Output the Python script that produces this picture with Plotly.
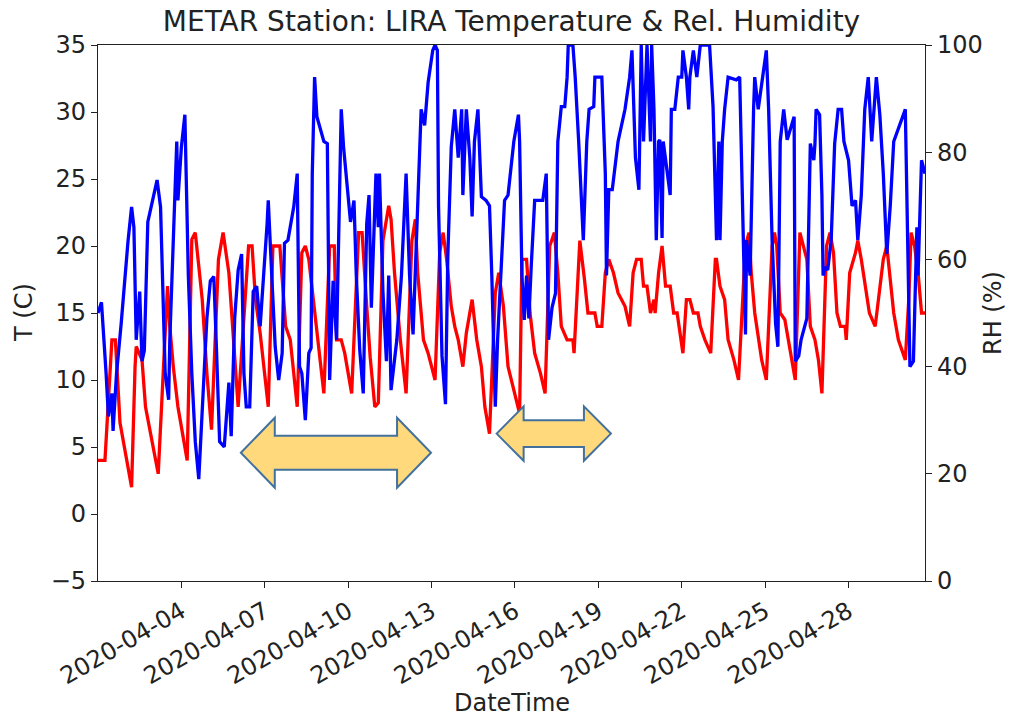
import pandas as pd
import plotly.graph_objects as go

# ---------------- data ----------------
title_text = "METAR Station: LIRA Temperature & Rel. Humidity"

t_temp = [
    "2020-04-01 00:00", "2020-04-01 06:00", "2020-04-01 12:00", "2020-04-01 15:00", "2020-04-01 19:00",
    "2020-04-02 05:00", "2020-04-02 08:00", "2020-04-02 09:00", "2020-04-02 14:00", "2020-04-02 17:00",
    "2020-04-03 04:00", "2020-04-03 08:00", "2020-04-03 12:00", "2020-04-03 14:00", "2020-04-03 17:00",
    "2020-04-03 21:00", "2020-04-04 02:00", "2020-04-04 05:00", "2020-04-04 09:00", "2020-04-04 12:00",
    "2020-04-04 18:00", "2020-04-04 22:00", "2020-04-05 02:00", "2020-04-05 08:00", "2020-04-05 12:00",
    "2020-04-05 17:00", "2020-04-05 21:00", "2020-04-06 01:00", "2020-04-06 10:00", "2020-04-06 13:00",
    "2020-04-06 16:00", "2020-04-06 20:00", "2020-04-07 03:00", "2020-04-07 07:00", "2020-04-07 13:00",
    "2020-04-07 18:00", "2020-04-07 22:00", "2020-04-08 04:00", "2020-04-08 08:00", "2020-04-08 11:00",
    "2020-04-08 14:00", "2020-04-08 18:00", "2020-04-09 03:00", "2020-04-09 08:00", "2020-04-09 12:00",
    "2020-04-09 14:00", "2020-04-09 18:00", "2020-04-09 21:00", "2020-04-10 03:00", "2020-04-10 09:00",
    "2020-04-10 12:00", "2020-04-10 16:00", "2020-04-10 19:00", "2020-04-10 23:00", "2020-04-11 02:00",
    "2020-04-11 06:00", "2020-04-11 11:00", "2020-04-11 13:00", "2020-04-11 16:00", "2020-04-11 21:00",
    "2020-04-12 02:00", "2020-04-12 07:00", "2020-04-12 10:00", "2020-04-12 12:00", "2020-04-12 17:00",
    "2020-04-12 21:00", "2020-04-13 03:00", "2020-04-13 07:00", "2020-04-13 10:00", "2020-04-13 13:00",
    "2020-04-13 17:00", "2020-04-13 20:00", "2020-04-13 23:00", "2020-04-14 03:00", "2020-04-14 06:00",
    "2020-04-14 11:00", "2020-04-14 15:00", "2020-04-14 19:00", "2020-04-14 22:00", "2020-04-15 02:00",
    "2020-04-15 07:00", "2020-04-15 10:00", "2020-04-15 14:00", "2020-04-15 18:00", "2020-04-16 00:00",
    "2020-04-16 04:00", "2020-04-16 06:00", "2020-04-16 10:00", "2020-04-16 13:00", "2020-04-16 17:00",
    "2020-04-16 22:00", "2020-04-17 02:00", "2020-04-17 06:00", "2020-04-17 10:00", "2020-04-17 13:00",
    "2020-04-17 16:00", "2020-04-17 21:00", "2020-04-18 02:00", "2020-04-18 03:00", "2020-04-18 08:00",
    "2020-04-18 12:00", "2020-04-18 15:00", "2020-04-18 21:00", "2020-04-18 23:00", "2020-04-19 03:00",
    "2020-04-19 06:00", "2020-04-19 09:00", "2020-04-19 13:00", "2020-04-19 17:00", "2020-04-19 23:00",
    "2020-04-20 03:00", "2020-04-20 06:00", "2020-04-20 09:00", "2020-04-20 13:00", "2020-04-20 15:00",
    "2020-04-20 18:00", "2020-04-20 21:00", "2020-04-21 00:00", "2020-04-21 01:00", "2020-04-21 04:00",
    "2020-04-21 07:00", "2020-04-21 10:00", "2020-04-21 14:00", "2020-04-21 17:00", "2020-04-21 20:00",
    "2020-04-21 23:00", "2020-04-22 01:00", "2020-04-22 04:00", "2020-04-22 07:00", "2020-04-22 10:00",
    "2020-04-22 14:00", "2020-04-22 16:00", "2020-04-22 20:00", "2020-04-23 01:00", "2020-04-23 05:00",
    "2020-04-23 06:00", "2020-04-23 09:00", "2020-04-23 13:00", "2020-04-23 16:00", "2020-04-23 21:00",
    "2020-04-24 01:00", "2020-04-24 07:00", "2020-04-24 10:00", "2020-04-24 12:00", "2020-04-24 15:00",
    "2020-04-24 21:00", "2020-04-25 01:00", "2020-04-25 06:00", "2020-04-25 08:00", "2020-04-25 10:00",
    "2020-04-25 13:00", "2020-04-25 17:00", "2020-04-25 23:00", "2020-04-26 02:00", "2020-04-26 06:00",
    "2020-04-26 09:00", "2020-04-26 12:00", "2020-04-26 15:00", "2020-04-26 19:00", "2020-04-26 22:00",
    "2020-04-27 01:00", "2020-04-27 05:00", "2020-04-27 08:00", "2020-04-27 11:00", "2020-04-27 14:00",
    "2020-04-27 17:00", "2020-04-27 21:00", "2020-04-27 22:00", "2020-04-28 01:00", "2020-04-28 06:00",
    "2020-04-28 08:00", "2020-04-28 11:00", "2020-04-28 16:00", "2020-04-28 18:00", "2020-04-28 23:00",
    "2020-04-29 02:00", "2020-04-29 06:00", "2020-04-29 09:00", "2020-04-29 12:00", "2020-04-29 15:00",
    "2020-04-29 19:00", "2020-04-30 01:00", "2020-04-30 04:00", "2020-04-30 06:00", "2020-04-30 09:00",
    "2020-04-30 12:00", "2020-04-30 15:00", "2020-04-30 18:00",
]
temp_c = [
    4, 4, 13, 13, 6.8,
    2, 11, 12.5, 11.5, 8,
    3, 10.5, 17, 14, 11,
    8, 5.5, 4, 20.5, 21,
    16, 10.5, 6.3, 19, 21,
    18, 13, 8, 20, 20,
    16, 13.5, 8, 20, 20,
    14, 13, 8, 19.5, 20,
    19, 16, 9, 20, 20,
    13, 13, 12, 9, 21,
    21, 15.5, 11.7, 8, 8.3,
    20.4, 23, 22, 18, 13,
    9, 20.4, 22, 18, 13,
    12, 10, 19.5, 21, 19,
    15.5, 14, 13, 11, 13.5,
    16, 13, 11, 8, 6,
    16.5, 18, 15.5, 11, 9,
    7.5, 19, 19, 15, 12,
    10.5, 9, 20, 21, 18,
    14, 13, 13, 12, 20.4,
    17.5, 15, 15, 14, 14,
    18, 19, 18, 16.5, 15.5,
    14, 18, 19, 19, 17,
    17, 15, 16, 15, 18,
    20, 17, 17, 15, 15,
    13, 12, 16, 16, 15,
    15, 14, 13, 12, 19,
    19, 17, 16, 13, 11.5,
    10, 20, 21, 18, 15,
    11.5, 10, 20, 21, 20,
    15, 14.5, 11.5, 10, 21,
    20, 19, 14, 13, 11.5,
    9, 20, 21, 19.5, 15,
    14, 14, 13, 18, 19.5,
    20.4, 19, 16, 15, 14,
    16, 19, 20, 17.5, 15,
    13, 11.5, 16, 21, 20,
    18, 15, 15,
]

t_rh = [
    "2020-04-01 00:00", "2020-04-01 03:00", "2020-04-01 07:00", "2020-04-01 09:00", "2020-04-01 12:00",
    "2020-04-01 13:00", "2020-04-01 16:00", "2020-04-01 20:00", "2020-04-02 02:00", "2020-04-02 05:00",
    "2020-04-02 07:00", "2020-04-02 09:00", "2020-04-02 12:00", "2020-04-02 14:00", "2020-04-02 16:00",
    "2020-04-02 18:00", "2020-04-02 19:00", "2020-04-03 03:00", "2020-04-03 06:00", "2020-04-03 10:00",
    "2020-04-03 13:00", "2020-04-03 14:00", "2020-04-03 17:00", "2020-04-03 20:00", "2020-04-03 21:00",
    "2020-04-04 00:00", "2020-04-04 03:00", "2020-04-04 06:00", "2020-04-04 09:00", "2020-04-04 12:00",
    "2020-04-04 15:00", "2020-04-04 18:00", "2020-04-04 22:00", "2020-04-05 01:00", "2020-04-05 04:00",
    "2020-04-05 06:00", "2020-04-05 09:00", "2020-04-05 13:00", "2020-04-05 17:00", "2020-04-05 19:00",
    "2020-04-05 22:00", "2020-04-06 01:00", "2020-04-06 04:00", "2020-04-06 06:00", "2020-04-06 08:00",
    "2020-04-06 11:00", "2020-04-06 14:00", "2020-04-06 17:00", "2020-04-06 20:00", "2020-04-07 02:00",
    "2020-04-07 03:00", "2020-04-07 06:00", "2020-04-07 09:00", "2020-04-07 12:00", "2020-04-07 15:00",
    "2020-04-07 17:00", "2020-04-07 20:00", "2020-04-08 01:00", "2020-04-08 04:00", "2020-04-08 06:00",
    "2020-04-08 08:00", "2020-04-08 11:00", "2020-04-08 14:00", "2020-04-08 16:00", "2020-04-08 17:00",
    "2020-04-08 19:00", "2020-04-08 21:00", "2020-04-09 03:00", "2020-04-09 06:00", "2020-04-09 08:00",
    "2020-04-09 11:00", "2020-04-09 14:00", "2020-04-09 17:00", "2020-04-09 18:00", "2020-04-09 20:00",
    "2020-04-10 02:00", "2020-04-10 05:00", "2020-04-10 07:00", "2020-04-10 10:00", "2020-04-10 13:00",
    "2020-04-10 16:00", "2020-04-10 18:00", "2020-04-10 20:00", "2020-04-10 23:00", "2020-04-11 00:00",
    "2020-04-11 02:00", "2020-04-11 03:00", "2020-04-11 06:00", "2020-04-11 09:00", "2020-04-11 11:00",
    "2020-04-11 13:00", "2020-04-11 18:00", "2020-04-11 22:00", "2020-04-12 02:00", "2020-04-12 05:00",
    "2020-04-12 08:00", "2020-04-12 11:00", "2020-04-12 12:00", "2020-04-12 15:00", "2020-04-12 18:00",
    "2020-04-12 21:00", "2020-04-13 01:00", "2020-04-13 03:00", "2020-04-13 05:00", "2020-04-13 06:00",
    "2020-04-13 09:00", "2020-04-13 12:00", "2020-04-13 14:00", "2020-04-13 17:00", "2020-04-13 20:00",
    "2020-04-13 23:00", "2020-04-14 02:00", "2020-04-14 03:00", "2020-04-14 06:00", "2020-04-14 09:00",
    "2020-04-14 11:00", "2020-04-14 13:00", "2020-04-14 16:00", "2020-04-14 19:00", "2020-04-14 23:00",
    "2020-04-15 02:00", "2020-04-15 04:00", "2020-04-15 07:00", "2020-04-15 09:00", "2020-04-15 12:00",
    "2020-04-15 15:00", "2020-04-15 18:00", "2020-04-15 23:00", "2020-04-16 03:00", "2020-04-16 04:00",
    "2020-04-16 06:00", "2020-04-16 08:00", "2020-04-16 10:00", "2020-04-16 12:00", "2020-04-16 14:00",
    "2020-04-16 17:00", "2020-04-17 00:00", "2020-04-17 03:00", "2020-04-17 05:00", "2020-04-17 08:00",
    "2020-04-17 11:00", "2020-04-17 13:00", "2020-04-17 16:00", "2020-04-17 19:00", "2020-04-17 21:00",
    "2020-04-17 22:00", "2020-04-18 02:00", "2020-04-18 04:00", "2020-04-18 07:00", "2020-04-18 10:00",
    "2020-04-18 11:00", "2020-04-18 14:00", "2020-04-18 16:00", "2020-04-18 20:00", "2020-04-18 21:00",
    "2020-04-19 03:00", "2020-04-19 06:00", "2020-04-19 07:00", "2020-04-19 09:00", "2020-04-19 12:00",
    "2020-04-19 14:00", "2020-04-19 17:00", "2020-04-19 23:00", "2020-04-20 03:00", "2020-04-20 05:00",
    "2020-04-20 08:00", "2020-04-20 11:00", "2020-04-20 13:00", "2020-04-20 15:00", "2020-04-20 18:00",
    "2020-04-20 21:00", "2020-04-20 22:00", "2020-04-21 00:00", "2020-04-21 02:00", "2020-04-21 04:00",
    "2020-04-21 05:00", "2020-04-21 07:00", "2020-04-21 08:00", "2020-04-21 11:00", "2020-04-21 14:00",
    "2020-04-21 15:00", "2020-04-21 18:00", "2020-04-21 21:00", "2020-04-22 00:00", "2020-04-22 01:00",
    "2020-04-22 04:00", "2020-04-22 06:00", "2020-04-22 07:00", "2020-04-22 10:00", "2020-04-22 13:00",
    "2020-04-22 16:00", "2020-04-23 00:00", "2020-04-23 03:00", "2020-04-23 05:00", "2020-04-23 06:00",
    "2020-04-23 08:00", "2020-04-23 09:00", "2020-04-23 11:00", "2020-04-23 13:00", "2020-04-23 16:00",
    "2020-04-23 23:00", "2020-04-24 02:00", "2020-04-24 05:00", "2020-04-24 07:00", "2020-04-24 08:00",
    "2020-04-24 11:00", "2020-04-24 14:00", "2020-04-24 15:00", "2020-04-24 18:00", "2020-04-25 01:00",
    "2020-04-25 03:00", "2020-04-25 06:00", "2020-04-25 09:00", "2020-04-25 11:00", "2020-04-25 13:00",
    "2020-04-25 16:00", "2020-04-25 19:00", "2020-04-26 01:00", "2020-04-26 02:00", "2020-04-26 05:00",
    "2020-04-26 07:00", "2020-04-26 12:00", "2020-04-26 15:00", "2020-04-26 18:00", "2020-04-26 19:00",
    "2020-04-26 20:00", "2020-04-26 23:00", "2020-04-27 01:00", "2020-04-27 02:00", "2020-04-27 04:00",
    "2020-04-27 06:00", "2020-04-27 09:00", "2020-04-27 12:00", "2020-04-27 15:00", "2020-04-27 18:00",
    "2020-04-27 20:00", "2020-04-28 00:00", "2020-04-28 03:00", "2020-04-28 06:00", "2020-04-28 08:00",
    "2020-04-28 11:00", "2020-04-28 14:00", "2020-04-28 17:00", "2020-04-28 20:00", "2020-04-29 00:00",
    "2020-04-29 03:00", "2020-04-29 06:00", "2020-04-29 09:00", "2020-04-29 12:00", "2020-04-29 15:00",
    "2020-04-30 01:00", "2020-04-30 04:00", "2020-04-30 05:00", "2020-04-30 08:00", "2020-04-30 11:00",
    "2020-04-30 12:00", "2020-04-30 15:00", "2020-04-30 18:00",
]
rh_pct = [
    50, 52, 38.7, 30.7, 35,
    28, 38.7, 48, 63.6, 69.8,
    66, 45, 54, 41, 43,
    57, 67, 74.8, 69.8, 38.7,
    33.8, 45, 66, 82, 71,
    81, 87, 57, 38.7, 26,
    19, 32.5, 49, 56, 56.8,
    45, 26, 25, 37, 27,
    49, 58, 61, 38.7, 32.5,
    32.5, 54, 55, 47.5, 66.7,
    71, 57, 43.7, 37.5, 42.5,
    63, 63.6, 69.8, 76, 40,
    38.7, 30, 42.5, 43.5, 76,
    94, 86.6, 82, 81.6, 37.5,
    56, 45, 82, 88, 81,
    67, 71, 57, 43, 35,
    66.7, 72, 51, 71, 76,
    66, 76, 54, 41, 57,
    35.6, 45, 57, 76, 57,
    46, 63.6, 72, 88, 85,
    93, 99, 100, 99, 70,
    42, 33, 60.5, 81, 88,
    79, 88, 72, 88, 79,
    68, 82, 88, 71.7, 71,
    70, 57, 32.5, 45, 57,
    71, 72, 82, 87, 82,
    57, 48.7, 57, 49, 58.6,
    71, 71, 76, 45, 51,
    53.7, 82, 88.5, 88.5, 94,
    100, 100, 94, 82, 68.6,
    63.6, 82, 88, 88.5, 94,
    94, 76, 57, 73, 73,
    77, 82, 88, 94, 99,
    79, 73, 100, 82, 100,
    82, 100, 88, 63.6, 82,
    82.3, 64, 82, 77, 72,
    88, 88, 94, 94, 99,
    94, 88, 94, 99, 94,
    100, 100, 88.5, 70, 63.6,
    82, 63.6, 82, 88, 94,
    93.5, 94, 63.6, 46, 63.6,
    57, 88, 94, 88, 99,
    88, 63.6, 48, 43.7, 82,
    88, 82.3, 86.6, 41, 42,
    45, 49, 81.6, 78.5, 81.6,
    88, 87, 72, 57, 58.6,
    58, 63.6, 81.6, 88, 88,
    82, 78.5, 70, 71, 63.6,
    72, 88, 94, 82, 94,
    87, 76, 61, 70, 82,
    88, 51, 40, 41, 66,
    57, 78.5, 76,
]

x_range = ["2020-04-01 00:00", "2020-04-30 18:00"]
x_tick_labels = ["2020-04-04", "2020-04-07", "2020-04-10", "2020-04-13", "2020-04-16",
                 "2020-04-19", "2020-04-22", "2020-04-25", "2020-04-28"]
t_range = [-5, 35]
t_ticks = [-5, 0, 5, 10, 15, 20, 25, 30, 35]
rh_range = [0, 100]
rh_ticks = [0, 20, 40, 60, 80, 100]

# highlighted periods (double arrows): start, end, centre level in deg C
arrow_start = ["2020-04-06 03:20", "2020-04-15 08:10"]
arrow_end = ["2020-04-12 23:30", "2020-04-19 10:50"]
arrow_level = [4.57, 6.0]
arrow_head_half = [2.61, 2.03]     # deg C
arrow_shaft_half = [1.27, 1.0]     # deg C
arrow_head_len_h = [29.3, 23.3]    # hours

# ---------------- figure ----------------
FONT = "DejaVu Sans"
TXT = "#222222"
W, H = 1011, 717
ML, MR, MT, MB = 98, 86, 45, 136
PW, PH = W - ML - MR, H - MT - MB

fig = go.Figure()
fig.add_trace(go.Scatter(x=pd.to_datetime(t_temp), y=temp_c, mode="lines",
                         line=dict(color="#ff0000", width=3.3), name="T", yaxis="y"))
fig.add_trace(go.Scatter(x=pd.to_datetime(t_rh), y=rh_pct, mode="lines",
                         line=dict(color="#0000ff", width=3.3), name="RH", yaxis="y2"))

x0 = pd.Timestamp(x_range[0])
x1 = pd.Timestamp(x_range[1])
span = (x1 - x0).total_seconds()


def xf(ts):
    return (pd.Timestamp(ts) - x0).total_seconds() / span


def yf(v):
    return (v - t_range[0]) / (t_range[1] - t_range[0])


shapes = []
for s, e, lv, hh, sh, hl in zip(arrow_start, arrow_end, arrow_level,
                                arrow_head_half, arrow_shaft_half, arrow_head_len_h):
    xl, xr = xf(s), xf(e)
    dl = hl * 3600 / span
    yc, yh_up, yh_dn = yf(lv), yf(lv + hh), yf(lv - hh)
    ys_up, ys_dn = yf(lv + sh), yf(lv - sh)
    pts = [(xl, yc), (xl + dl, yh_up), (xl + dl, ys_up), (xr - dl, ys_up), (xr - dl, yh_up),
           (xr, yc), (xr - dl, yh_dn), (xr - dl, ys_dn), (xl + dl, ys_dn), (xl + dl, yh_dn)]
    path = "M " + " L ".join(f"{px:.5f},{py:.5f}" for px, py in pts) + " Z"
    shapes.append(dict(type="path", xref="paper", yref="paper", path=path,
                       fillcolor="#FFD97C", line=dict(color="#41719C", width=2), layer="above"))

axis_common = dict(showline=True, linecolor="#222222", linewidth=1.3, ticks="outside",
                   ticklen=6, tickwidth=1.2, tickcolor="#222222", showgrid=False, zeroline=False,
                   tickfont=dict(family=FONT, size=24, color=TXT))


def px_x(win_x):   # window pixel -> paper x
    return (win_x - ML) / PW


def px_y(win_y):   # window pixel -> paper y
    return (H - MB - win_y) / PH


fig.update_layout(
    width=W, height=H,
    margin=dict(l=ML, r=MR, t=MT, b=MB, pad=0),
    paper_bgcolor="white", plot_bgcolor="white",
    showlegend=False,
    hovermode=False,
    title=dict(text=title_text, x=0.5, xref="paper", xanchor="center",
               y=1 - 21 / H, yref="container", yanchor="middle",
               font=dict(family=FONT, size=28, color=TXT)),
    xaxis=dict(range=x_range, tickvals=x_tick_labels, ticktext=x_tick_labels,
               tickangle=-30, mirror=True, **axis_common),
    yaxis=dict(range=t_range, tickvals=t_ticks, side="left", **axis_common),
    yaxis2=dict(range=rh_range, tickvals=rh_ticks, overlaying="y", side="right",
                anchor="x", **axis_common),
    shapes=shapes,
    annotations=[
        dict(text="T (C)", xref="paper", yref="paper", x=px_x(24), y=0.5,
             textangle=-90, showarrow=False, xanchor="center", yanchor="middle",
             font=dict(family=FONT, size=24, color=TXT)),
        dict(text="RH (%)", xref="paper", yref="paper", x=px_x(993), y=0.5,
             textangle=-90, showarrow=False, xanchor="center", yanchor="middle",
             font=dict(family=FONT, size=24, color=TXT)),
        dict(text="DateTime", xref="paper", yref="paper", x=0.5, y=px_y(703),
             showarrow=False, xanchor="center", yanchor="middle",
             font=dict(family=FONT, size=24, color=TXT)),
    ],
)

# remove the browser's default 8px page margin so the figure fills the window exactly
fig.write_html("out.html", config={"displayModeBar": False},
               post_script="document.body.style.margin='0';document.body.style.overflow='hidden';")
